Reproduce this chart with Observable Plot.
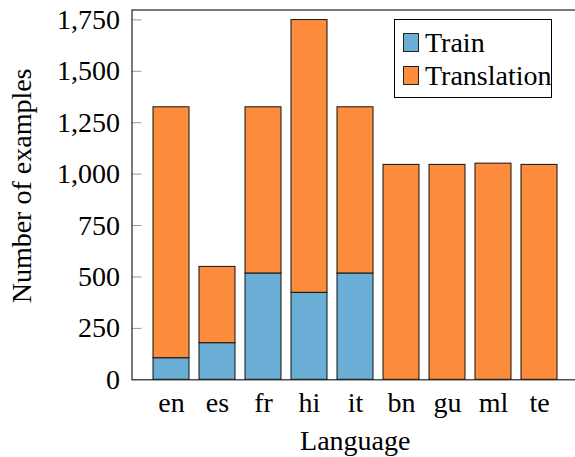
<!DOCTYPE html>
<html>
<head>
<meta charset="utf-8">
<script src="https://cdn.jsdelivr.net/npm/d3@7"></script>
<script src="https://cdn.jsdelivr.net/npm/@observablehq/plot@0.6"></script>
<style>
  html, body { margin: 0; padding: 0; background: white; overflow: hidden; }
  #wrap { position: relative; width: 575px; height: 457px; overflow: hidden; font-family: "Liberation Serif", serif; }
  #wrap svg { max-width: none !important; overflow: hidden; }
  #wrap svg text { font-family: "Liberation Serif", serif; font-variant: normal; }
  #legend { position: absolute; left: 394px; top: 19px; width: 158px; height: 79px; border: 1px solid #000; background: #fff; box-sizing: border-box; }
  .row { position: absolute; left: 8px; height: 28px; display: flex; align-items: center; font-size: 28px; line-height: 1; color: #000; white-space: nowrap; }
  .sw { width: 16px; height: 19px; border: 1px solid #222; box-sizing: border-box; margin-right: 6px; }
</style>
</head>
<body>
<div id="wrap"></div>
<script>
const languages = ["en", "es", "fr", "hi", "it", "bn", "gu", "ml", "te"];
const trainCounts = [105, 178, 517, 423, 517, 0, 0, 0, 0];
const translationCounts = [1220, 371, 808, 1326, 808, 1045, 1045, 1051, 1045];
const seriesNames = ["Train", "Translation"];
const seriesColors = ["#6aaed6", "#fd8d3c"];
const yTicks = [0, 250, 500, 750, 1000, 1250, 1500, 1750];
const yLabel = "Number of examples";
const xLabel = "Language";

const rows = [];
languages.forEach((l, i) => { if (trainCounts[i] > 0) rows.push({lang: l, series: "Train", value: trainCounts[i]}); });
languages.forEach((l, i) => { if (translationCounts[i] > 0) rows.push({lang: l, series: "Translation", value: translationCounts[i]}); });

const FONT = "Liberation Serif, serif";
const FS = 28;
const plotLeft = 131.5, plotRight = -3;
const svgWidth = 575;
const frameW = svgWidth - plotLeft - plotRight;

const chart = Plot.plot({
  width: svgWidth,
  height: 457,
  marginLeft: plotLeft,
  marginRight: plotRight,
  marginTop: 9.5,
  marginBottom: 77.7,
  style: {fontFamily: FONT, fontSize: FS + "px", color: "#000", background: "white"},
  x: {domain: languages, paddingInner: 0.22, paddingOuter: 0.41, label: null},
  y: {domain: [0, 1798], label: null},
  color: {domain: seriesNames, range: seriesColors},
  marks: [
    Plot.barY(rows, {x: "lang", y: "value", fill: "series", stroke: "#111", strokeWidth: 1}),
    Plot.ruleY(yTicks.slice(1), {y: d => d, stroke: "#999", strokeWidth: 1, insetRight: frameW - 10}),
    Plot.frame({stroke: "#222", strokeWidth: 1.2}),
    Plot.axisY({ticks: yTicks, tickSize: 0, tickPadding: 12, tickFormat: d3.format(","), label: null, fontSize: FS, fontFamily: FONT, fontVariant: "normal"}),
    Plot.axisX({tickSize: 0, tickPadding: 12, label: null, fontSize: FS, fontFamily: FONT}),
    Plot.text([xLabel], {frameAnchor: "bottom", text: d => d, textAnchor: "middle", lineAnchor: "top", dy: 50, fontSize: FS, fontFamily: FONT}),
    Plot.text([yLabel], {frameAnchor: "left", text: d => d, textAnchor: "middle", rotate: -90, lineAnchor: "middle", dx: -110, dy: -9, fontSize: FS, fontFamily: FONT})
  ]
});
chart.style.maxWidth = "none";
const wrap = document.getElementById("wrap");
wrap.appendChild(chart);

const legend = document.createElement("div");
legend.id = "legend";
seriesNames.forEach((name, i) => {
  const row = document.createElement("div");
  row.className = "row";
  row.style.top = (i === 0 ? 8.5 : 41.5) + "px";
  const sw = document.createElement("div");
  sw.className = "sw";
  sw.style.background = seriesColors[i];
  const t = document.createElement("span");
  t.textContent = name;
  row.appendChild(sw);
  row.appendChild(t);
  legend.appendChild(row);
});
wrap.appendChild(legend);
</script>
</body>
</html>
